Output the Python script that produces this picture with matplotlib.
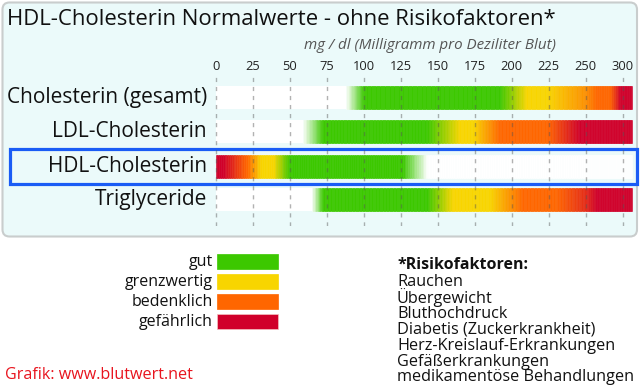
import numpy as np
import matplotlib
matplotlib.use("Agg")
import matplotlib.pyplot as plt
from matplotlib.patches import FancyBboxPatch, Rectangle
from matplotlib.colors import to_rgb

plt.rcParams['font.family'] = ['Open Sans', 'DejaVu Sans']

# ---------------- data ----------------
title = "HDL-Cholesterin Normalwerte - ohne Risikofaktoren*"
unit_label = "mg / dl (Milligramm pro Deziliter Blut)"
categories = ["Cholesterin (gesamt)", "LDL-Cholesterin", "HDL-Cholesterin", "Triglyceride"]
tick_values = [0, 25, 50, 75, 100, 125, 150, 175, 200, 225, 250, 300]
tick_labels = ["0", "25", "50", "75", "100", "125", "150", "175", "200", "225", "250", "300"]
scale_max = 312

# colour stops (mg/dl value, class) for each row
stops_gesamt = [(88, "w"), (100, "g"), (192, "g"), (210, "y"), (224, "y"), (265, "o"), (283, "o"), (297, "r"), (312, "r")]
stops_ldl = [(59, "w"), (72.5, "g"), (143, "g"), (165, "y"), (174, "y"), (192, "o"), (224, "o"), (246, "r"), (312, "r")]
stops_hdl = [(0, "r"), (5, "r"), (21, "o"), (31, "y"), (39, "y"), (50, "g"), (126.5, "g"), (143, "w"), (312, "w")]
stops_trig = [(65, "w"), (72.5, "g"), (143, "g"), (160, "y"), (185, "y"), (207.5, "o"), (230, "o"), (265, "r"), (312, "r")]
row_stops = [stops_gesamt, stops_ldl, stops_hdl, stops_trig]
highlight = "HDL-Cholesterin"

legend_labels = ["gut", "grenzwertig", "bedenklich", "gefährlich"]
class_colors = {"w": "#ffffff", "g": "#3cc800", "y": "#f8d500", "o": "#ff6600", "r": "#d0002a"}
legend_keys = ["g", "y", "o", "r"]

risk_title = "*Risikofaktoren:"
risk_factors = ["Rauchen", "Übergewicht", "Bluthochdruck", "Diabetis (Zuckerkrankheit)",
                "Herz-Kreislauf-Erkrankungen", "Gefäßerkrankungen", "medikamentöse Behandlungen"]
source = "Grafik: www.blutwert.net"

# ---------------- figure ----------------
W, H = 640, 389
fig = plt.figure(figsize=(W / 100, H / 100), dpi=100)
bg = fig.add_axes([0, 0, 1, 1])
bg.set_xlim(0, W)
bg.set_ylim(H, 0)
bg.axis("off")

bg.add_patch(FancyBboxPatch((2.5, 2.5), 634.5, 234, boxstyle="round,pad=0,rounding_size=7",
                            facecolor="#ebfafa", edgecolor="#c9cdcd", lw=1.5, zorder=0))

bg.text(7, 19, title, fontsize=15.9, ha="left", va="center", color="#111111")
bg.text(556, 45, unit_label, fontsize=10.9, style="italic", ha="right", va="center", color="#555555")

# piecewise scale: 0-250 linear, 250-300 compressed into one tick step
def fwd(v):
    v = np.asarray(v, dtype=float)
    return np.where(v <= 250, v / 25.0, 10 + (v - 250) / 50.0)

def inv(p):
    p = np.asarray(p, dtype=float)
    return np.where(p <= 10, p * 25.0, 250 + (p - 10) * 50.0)

ax_left, ax_right, ax_top, ax_bot = 200, 640, 75, 226
ax = fig.add_axes([ax_left / W, 1 - ax_bot / H, (ax_right - ax_left) / W, (ax_bot - ax_top) / H])
ax.set_xscale("function", functions=(fwd, inv))
px0, step = 215.7, 37.0
ax.set_xlim(inv((ax_left - px0) / step), inv((ax_right - px0) / step))
ax.set_ylim(ax_bot, ax_top)
ax.patch.set_alpha(0)
for s in ax.spines.values():
    s.set_visible(False)

row_y = [97, 131.5, 166, 199.5]
bar_h = 23

def color_at(v, stops):
    xs = [s[0] for s in stops]
    cols = np.array([to_rgb(class_colors[s[1]]) for s in stops])
    return tuple(np.interp(v, xs, cols[:, k]) for k in range(3))

for y, stops in zip(row_y, row_stops):
    first = stops[0][0]
    if first > 0:
        ax.barh(y, first, left=0, height=bar_h, color="white", lw=0, zorder=1)
    edges = np.linspace(first, scale_max, 260)
    lefts = edges[:-1]
    widths = np.diff(edges)
    mids = lefts + widths / 2
    cols = [color_at(m, stops) for m in mids]
    ax.barh([y] * len(lefts), widths, left=lefts, height=bar_h, color=cols,
            edgecolor=cols, lw=0.4, zorder=2)

ax.set_xticks(tick_values)
ax.set_xticklabels(tick_labels)
ax.xaxis.set_ticks_position("top")
ax.tick_params(axis="x", length=0, pad=1.5, labelsize=9.3, labelcolor="#222222")
ax.tick_params(axis="y", left=False, labelleft=False)
ax.minorticks_off()
ax.set_axisbelow(False)
ax.grid(axis="x", color="#555555", alpha=0.45, linestyle=(0, (3, 3.5)), lw=1.0, zorder=5)

for y, name in zip(row_y, categories):
    bg.text(207, y, name, fontsize=15, ha="right", va="center", color="#111111")
    if name == highlight:
        bg.add_patch(Rectangle((9.5, y - 17.5), 627, 35, fill=False, edgecolor="#1a5cf5", lw=2.3, zorder=6))

# legend
for i, (lab, key) in enumerate(zip(legend_labels, legend_keys)):
    yc = 261.5 + 20 * i
    bg.add_patch(Rectangle((217, yc - 7.5), 61, 15, facecolor=class_colors[key],
                           edgecolor="#f5c0c0" if key == "r" else class_colors[key], lw=0.5))
    bg.text(213, yc, lab, fontsize=11.5, ha="right", va="center", color="#111111")

# risk factors
bg.text(397, 265, risk_title, fontsize=11.5, fontweight="bold", ha="left", va="center", color="#111111")
for i, rf in enumerate(risk_factors):
    bg.text(397, 282 + 15.9 * i, rf, fontsize=11.7, ha="left", va="center", color="#111111")

bg.text(5, 375, source, fontsize=11.6, ha="left", va="center", color="#e8141e")

fig.savefig("out.png", dpi=100)
